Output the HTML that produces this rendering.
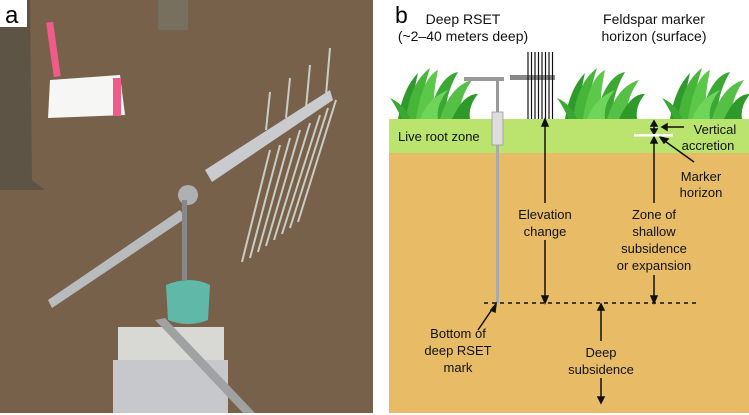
<!DOCTYPE html>
<html><head><style>
html,body{margin:0;padding:0;background:#fff;}
svg{display:block;font-family:"Liberation Sans",sans-serif;}
</style></head><body>
<svg width="749" height="415" viewBox="0 0 749 415" xmlns="http://www.w3.org/2000/svg">
<defs>
<g id="grass">
<path d="M0 51 Q5 20 20 5 Q14 30 14 51Z" fill="#2e9a2a"/>
<path d="M8 51 Q12 15 32 0 Q22 30 24 51Z" fill="#47b53a"/>
<path d="M18 51 Q24 10 40 2 Q34 30 36 51Z" fill="#5cc84a"/>
<path d="M30 51 Q40 8 60 4 Q46 28 48 51Z" fill="#3aa832"/>
<path d="M42 51 Q52 18 74 12 Q60 32 62 51Z" fill="#55c045"/>
<path d="M54 51 Q66 25 80 26 Q70 38 72 51Z" fill="#2e9a2a"/>
<path d="M4 51 Q-4 35 -8 30 Q6 36 12 51Z" fill="#3aa832"/>
<path d="M22 51 Q30 30 50 22 Q38 36 40 51Z" fill="#6fd45a"/>
</g>
</defs>
<!-- photo a -->
<rect x="0" y="0" width="373" height="413" fill="#6e5a44"/>
<rect x="0" y="0" width="373" height="413" fill="#7d6650" opacity="0.6"/>
<path d="M0 0 L30 0 L32 180 L45 190 L0 190Z" fill="#5e5446"/>
<rect x="158" y="0" width="30" height="30" fill="#77705f"/>
<path d="M50 80 L120 75 L125 115 L48 118Z" fill="#f6f6f4"/>
<rect x="50" y="22" width="7" height="55" fill="#ef5b8a" transform="rotate(-8 53 50)"/>
<rect x="113" y="78" width="8" height="38" fill="#ef5b8a"/>
<path d="M205 170 L330 90 L333 100 L212 182Z" fill="#c9cbce"/>
<g stroke="#c9cdc4" stroke-width="2">
<line x1="270" y1="150" x2="242" y2="262"/><line x1="280" y1="145" x2="250" y2="258"/>
<line x1="290" y1="138" x2="258" y2="252"/><line x1="300" y1="130" x2="266" y2="246"/>
<line x1="310" y1="123" x2="274" y2="240"/><line x1="320" y1="115" x2="282" y2="234"/>
<line x1="328" y1="108" x2="290" y2="228"/><line x1="336" y1="100" x2="298" y2="222"/>
<line x1="270" y1="92" x2="266" y2="130"/><line x1="290" y1="78" x2="286" y2="118"/>
<line x1="310" y1="65" x2="306" y2="108"/><line x1="330" y1="48" x2="326" y2="95"/>
</g>
<path d="M48 300 L180 210 L186 218 L52 308Z" fill="#b9bcbf"/>
<circle cx="188" cy="195" r="10" fill="#aeb0b2"/>
<rect x="182" y="200" width="5" height="80" fill="#888"/>
<path d="M166 285 Q190 275 210 285 L208 320 Q188 328 168 320Z" fill="#5fb8a8"/>
<rect x="118" y="327" width="106" height="86" fill="#d8d8d4"/>
<rect x="113" y="360" width="115" height="53" fill="#c6c8cb"/>
<path d="M155 320 L165 318 L255 413 L243 413Z" fill="#9fa1a3"/>
<rect x="0" y="0" width="27" height="27" fill="#fff"/>
<text x="5" y="23" font-size="24" fill="#000">a</text>
<!-- panel b -->
<rect x="389" y="119" width="360" height="34" fill="#bbe46e"/>
<rect x="389" y="153" width="360" height="260" fill="#e8bc67"/>
<text x="395" y="23" font-size="23" fill="#000">b</text>
<text x="463" y="24" font-size="14" text-anchor="middle" fill="#111">Deep RSET</text>
<text x="463" y="41" font-size="14" text-anchor="middle" fill="#111">(~2–40 meters deep)</text>
<text x="654" y="24" font-size="14" text-anchor="middle" fill="#111">Feldspar marker</text>
<text x="654" y="41" font-size="14" text-anchor="middle" fill="#111">horizon (surface)</text>
<use href="#grass" x="398" y="68"/>
<use href="#grass" x="565" y="68"/>
<use href="#grass" x="670" y="68"/>
<!-- RSET -->
<rect x="464" y="77" width="40" height="4" fill="#999"/>
<rect x="510" y="75" width="45" height="5" fill="#888"/>
<rect x="496" y="80" width="3" height="32" fill="#999"/>
<rect x="492" y="112" width="11" height="33" fill="#ddd" stroke="#999" stroke-width="0.8"/>
<rect x="496" y="145" width="3" height="158" fill="#aaa"/>
<g stroke="#111" stroke-width="1.2">
<line x1="528" y1="52" x2="528" y2="119"/><line x1="531.5" y1="52" x2="531.5" y2="119"/>
<line x1="535" y1="52" x2="535" y2="119"/><line x1="538.5" y1="52" x2="538.5" y2="119"/>
<line x1="542" y1="52" x2="542" y2="119"/><line x1="545.5" y1="52" x2="545.5" y2="119"/>
<line x1="549" y1="52" x2="549" y2="119"/><line x1="552.5" y1="52" x2="552.5" y2="119"/>
</g>
<text x="398" y="141" font-size="13" fill="#111">Live root zone</text>
<!-- dashed line -->
<line x1="484" y1="303" x2="700" y2="303" stroke="#111" stroke-width="1.5" stroke-dasharray="4,4"/>
<!-- arrows -->
<g stroke="#111" stroke-width="1.5" fill="#111">
<line x1="545" y1="124" x2="545" y2="203"/><path d="M542 126 L545 119 L548 126Z"/>
<line x1="545" y1="240" x2="545" y2="298"/><path d="M542 296 L545 303 L548 296Z"/>
<line x1="654" y1="141" x2="654" y2="203"/><path d="M651 143 L654 137 L657 143Z"/>
<line x1="654" y1="275" x2="654" y2="298"/><path d="M651 296 L654 303 L657 296Z"/>
<line x1="654" y1="124" x2="654" y2="130"/><path d="M651 126 L654 121 L657 126Z"/><path d="M651 129 L654 134 L657 129Z"/>
<line x1="601" y1="306" x2="601" y2="341"/><path d="M598 310 L601 304 L604 310Z"/>
<line x1="601" y1="378" x2="601" y2="400"/><path d="M598 397 L601 403 L604 397Z"/>
<line x1="664" y1="127" x2="684" y2="127"/><path d="M667 124 L662 127 L667 130Z"/>
<line x1="662" y1="139" x2="694" y2="162"/><path d="M660 137 L668 139 L664 143Z"/>
<line x1="478" y1="330" x2="493" y2="308"/><path d="M491 310 L496 304 L495 312Z"/>
</g>
<rect x="634" y="134" width="39" height="2.5" fill="#fff"/>
<g font-size="13" fill="#111" text-anchor="middle">
<text x="715" y="134">Vertical</text><text x="708" y="150">accretion</text>
<text x="701" y="181">Marker</text><text x="701" y="197">horizon</text>
<text x="545" y="219">Elevation</text><text x="545" y="236">change</text>
<text x="654" y="219">Zone of</text><text x="654" y="236">shallow</text>
<text x="654" y="253">subsidence</text><text x="654" y="270">or expansion</text>
<text x="458" y="338">Bottom of</text><text x="458" y="355">deep RSET</text><text x="458" y="372">mark</text>
<text x="601" y="357">Deep</text><text x="601" y="374">subsidence</text>
</g>
</svg>
</body></html>
